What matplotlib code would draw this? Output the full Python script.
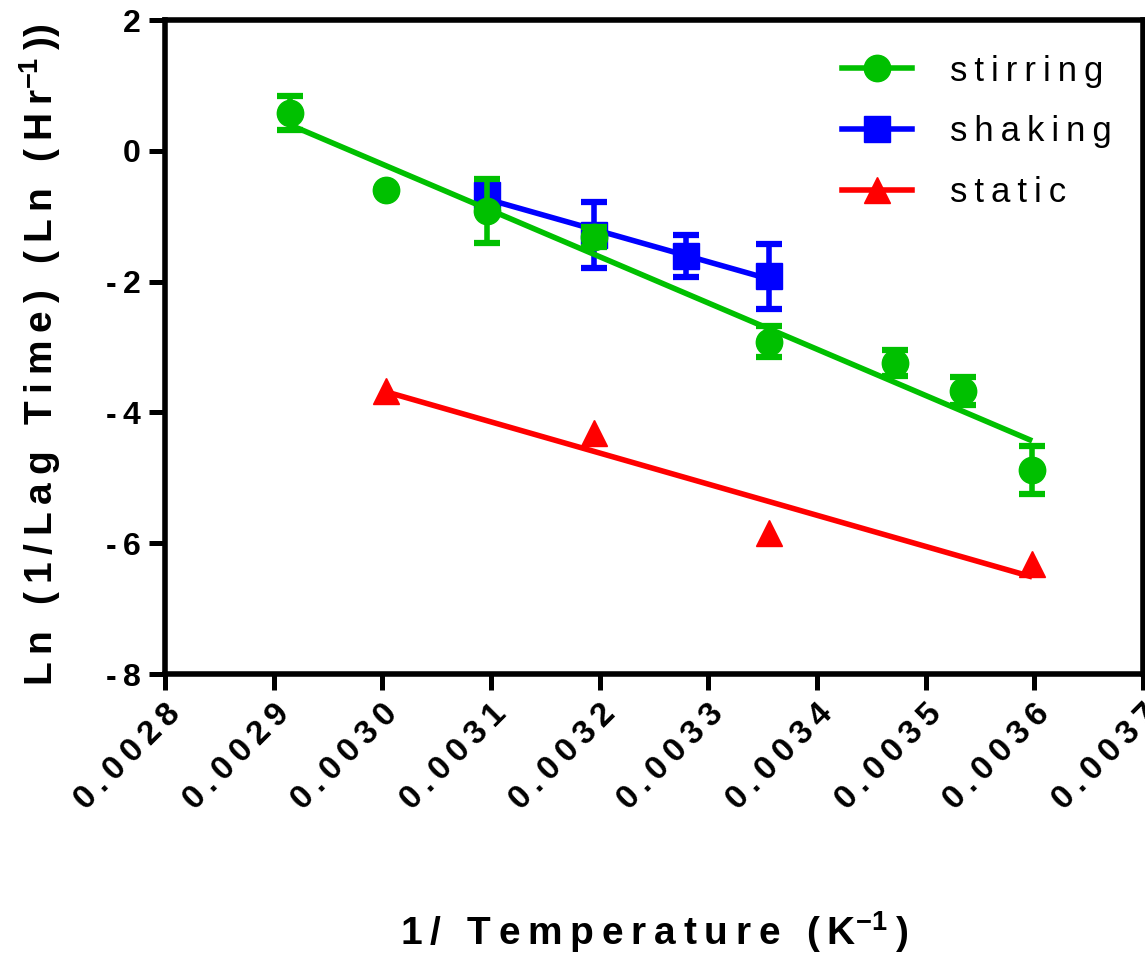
import numpy as np
import matplotlib
matplotlib.use("Agg")
import matplotlib.pyplot as plt
from matplotlib.lines import Line2D

plt.rcParams['font.family'] = ['Liberation Sans', 'DejaVu Sans']
plt.rcParams['mathtext.default'] = 'regular'

# data
stir_x = [0.002915, 0.003003, 0.003096, 0.003195, 0.003356, 0.003472, 0.003534, 0.003598]
stir_y = [0.58, -0.60, -0.92, -1.32, -2.92, -3.25, -3.67, -4.88]
stir_err = [0.26, 0.0, 0.49, 0.15, 0.24, 0.20, 0.21, 0.37]

shake_x = [0.003096, 0.003195, 0.003279, 0.003356]
shake_y = [-0.68, -1.29, -1.61, -1.92]
shake_err = [0.15, 0.50, 0.32, 0.50]

static_x = [0.003003, 0.003195, 0.003356, 0.003598]
static_y = [-3.68, -4.31, -5.85, -6.32]

labels = ["stirring", "shaking", "static"]
xticks = [0.0028, 0.0029, 0.0030, 0.0031, 0.0032, 0.0033, 0.0034, 0.0035, 0.0036, 0.0037]
yticks = [2, 0, -2, -4, -6, -8]

GREEN = '#00C000'
BLUE = '#0000FF'
RED = '#FF0000'
TS = '\u2009'  # thin space for the wide letter spacing


def spaced(s, sep=TS):
    return sep.join(s)


def fit_line(ax, x, y, color, z):
    k, b = np.polyfit(x, y, 1)
    xs = np.array([min(x), max(x)])
    ax.plot(xs, k * xs + b, color=color, lw=4, zorder=z, solid_capstyle='butt')


fig = plt.figure(figsize=(11.45, 9.57), dpi=100)
ax = fig.add_axes([165 / 1145, 1 - 674 / 957, 978 / 1145, 654 / 957])

ms = 19
# static
fit_line(ax, static_x, static_y, RED, 2)
ax.plot(static_x, static_y, ls='none', marker='^', ms=ms, color=RED, zorder=3)

# shaking
fit_line(ax, shake_x, shake_y, BLUE, 4)
ax.errorbar(shake_x, shake_y, yerr=shake_err, fmt='s', ms=ms, color=BLUE,
            ecolor=BLUE, elinewidth=4, capsize=9.5, capthick=4.5, zorder=5)

# stirring
fit_line(ax, stir_x, stir_y, GREEN, 6)
ax.errorbar(stir_x, stir_y, yerr=stir_err, fmt='o', ms=ms, color=GREEN,
            ecolor=GREEN, elinewidth=4, capsize=9.5, capthick=4.5, zorder=7)

ax.set_xlim(0.0028, 0.0037)
ax.set_ylim(-8, 2)
ax.set_xticks(xticks)
ax.set_xticklabels([spaced(f"{t:.4f}") for t in xticks], rotation=45,
                   ha='right', va='top', rotation_mode='anchor',
                   fontsize=24, fontweight='bold')
ax.set_yticks(yticks)
ax.set_yticklabels([(f"-{TS}{abs(t)}" if t < 0 else str(t)) for t in yticks],
                   fontsize=23, fontweight='bold')
ax.tick_params(direction='out', length=11.5, width=3.6, pad=6)

for sp in ax.spines.values():
    sp.set_linewidth(4)

ax.set_xlabel(spaced("1/ Temperature (K") + "$^{-1}$" + TS + ")",
              fontsize=28, fontweight='bold')
ax.xaxis.set_label_coords(0.50, -0.36)
ax.xaxis.label.set_va('top')
ax.set_ylabel(spaced("Ln (1/Lag Time) (Ln (Hr") + "$^{-1}$" + TS + "))",
              fontsize=28, fontweight='bold')
ax.yaxis.set_label_coords(-0.104, 0.488)

handles = [
    Line2D([], [], color=GREEN, lw=4, marker='o', ms=ms),
    Line2D([], [], color=BLUE, lw=4, marker='s', ms=ms),
    Line2D([], [], color=RED, lw=4, marker='^', ms=ms),
]
ax.legend(handles, [spaced(s) for s in labels], loc='upper right',
          bbox_to_anchor=(1.0, 0.995), frameon=False, fontsize=25,
          handlelength=2.0, handletextpad=1.1, labelspacing=0.8)

fig.savefig("out.png", dpi=100)
